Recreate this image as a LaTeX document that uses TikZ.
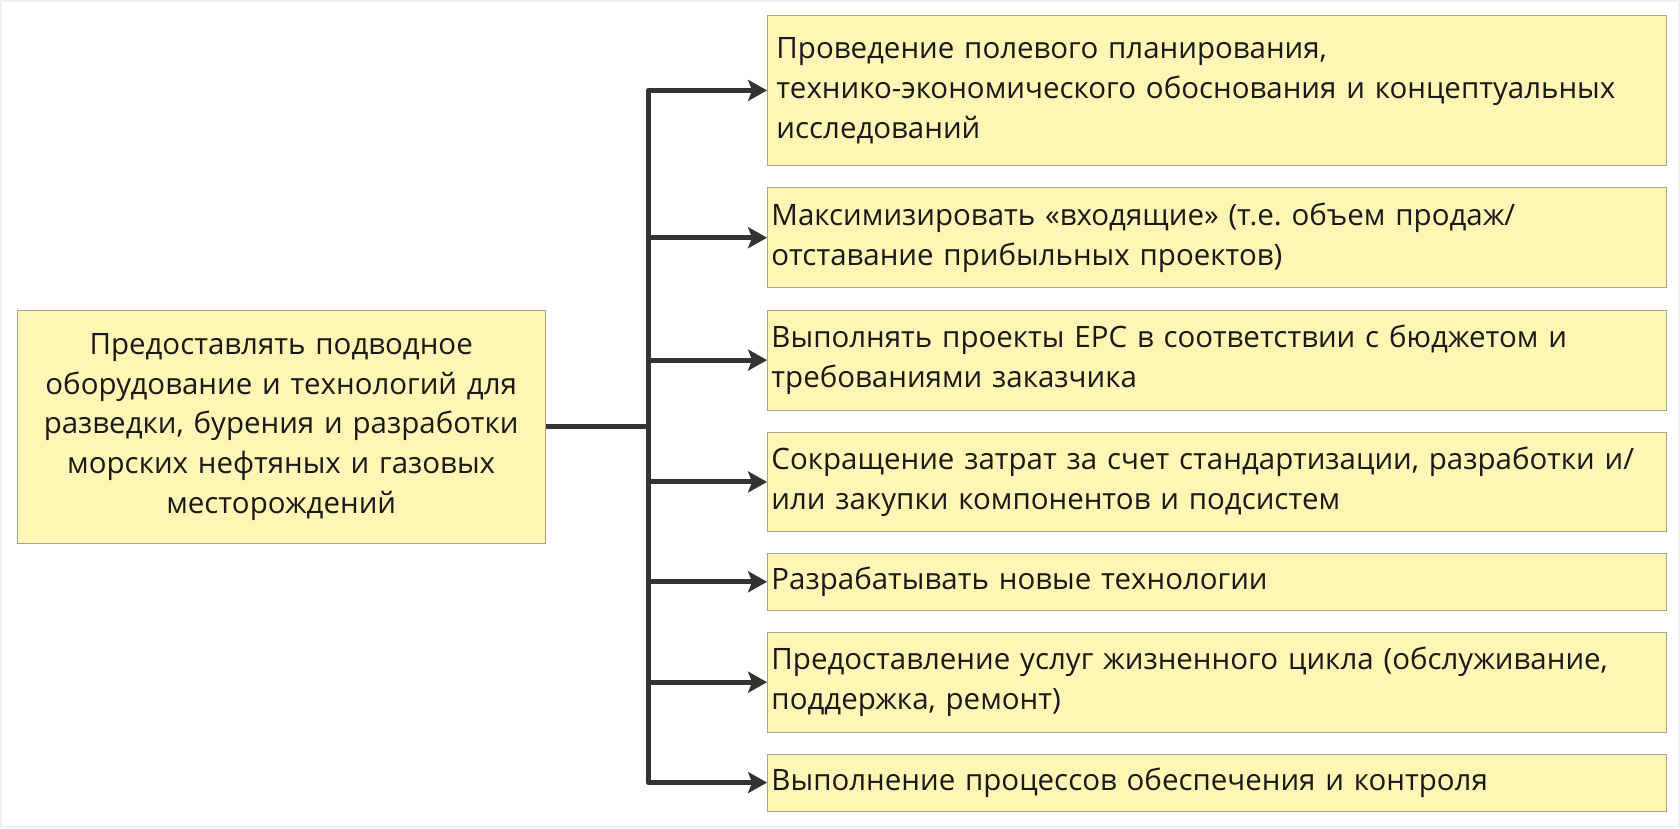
\documentclass[tikz,border=0pt]{standalone}
\usepackage{fontspec}
\setmainfont{Open Sans}
\usetikzlibrary{arrows.meta}

\definecolor{boxfill}{HTML}{FFF5B4}
\definecolor{boxline}{HTML}{A8A48C}
\definecolor{linkgray}{HTML}{333333}

\frenchspacing
\begin{document}
\begin{tikzpicture}[x=1pt,y=-1pt]
				\useasboundingbox[draw=black!6,line width=2pt] (0,0) rectangle (1680,827);
				\begin{scope}[every node/.style = {draw=boxline, fill=boxfill, thick,
						text=black!90, font=\fontsize{29.5}{40}\selectfont}]
					\node (goal) [minimum width=529, minimum height=233, text width=509,
						inner xsep=10, align=center]
						at (280.5,426.5) {Предоставлять подводное\\оборудование и технологий для\\разведки, бурения и разработки\\морских нефтяных и газовых\\месторождений};
					\begin{scope}[every node/.append style={anchor=west, align=left,
							minimum width=900, text width=892, inner xsep=4}]
						\node (t1) [minimum height=151, inner xsep=9, text width=882] at (767,89.5)
							{Проведение полевого планирования,\\технико-экономического обоснования и концептуальных\\исследований\\[-22pt]};
						\node (t2) [minimum height=100] at (767,237) {Максимизировать «входящие» (т.е. объем продаж/\\отставание прибыльных проектов)};
						\node (t3) [minimum height=100] at (767,359.5) {Выполнять проекты EPC в соответствии с бюджетом и\\требованиями заказчика};
						\node (t4) [minimum height=100] at (767,481.5) {Сокращение затрат за счет стандартизации, разработки и/\\или закупки компонентов и подсистем};
						\node (t5) [minimum height=57] at (767,581.5) {Разрабатывать новые технологии};
						\node (t6) [minimum height=100] at (767,682) {Предоставление услуг жизненного цикла (обслуживание,\\поддержка, ремонт)};
						\node (t7) [minimum height=57] at (767,782.5) {Выполнение процессов обеспечения и контроля};
					\end{scope}
				\end{scope}
				\coordinate (hub) at (648,426.5);
				\begin{scope}[>={Stealth[length=19pt, width=21pt, inset=4pt]},
						every edge/.style={draw=linkgray, line width=5pt, line join=round},
						elbow/.style={to path={|- (\tikztotarget)}}]
					\path [-] (goal) edge (hub);
					\path [->] (hub) edge[elbow] (t1);
					\path [->] (hub) edge[elbow] (t2);
					\path [->] (hub) edge[elbow] (t3);
					\path [->] (hub) edge[elbow] (t4);
					\path [->] (hub) edge[elbow] (t5);
					\path [->] (hub) edge[elbow] (t6);
					\path [->] (hub) edge[elbow] (t7);
				\end{scope}
			\end{tikzpicture}
\end{document}
